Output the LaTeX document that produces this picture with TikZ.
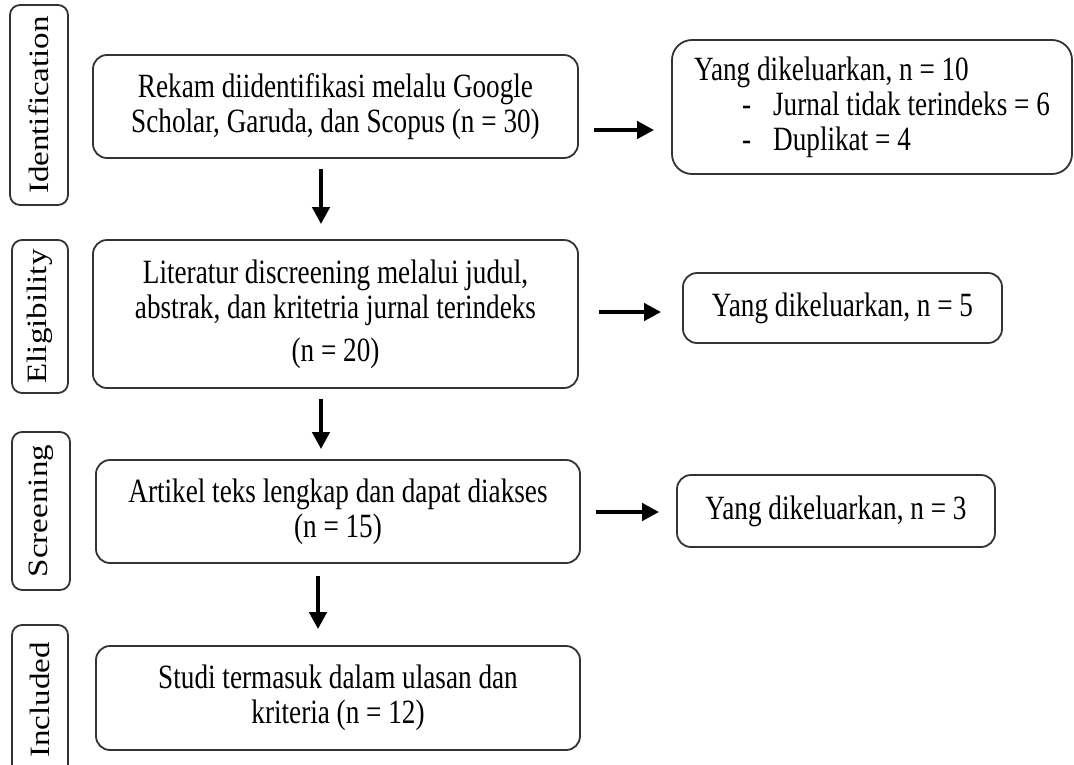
\documentclass[tikz,border=0pt]{standalone}
\usepackage{fontspec}
\setmainfont{Liberation Serif}[FakeStretch=0.8]
\newfontfamily\labfont{Liberation Serif}[FakeStretch=1.18]
\usetikzlibrary{arrows.meta}
\begin{document}
\begin{tikzpicture}[x=1pt,y=-1pt,
  box/.style={draw=black!80, line width=1.8pt, rounded corners=14pt, align=center,
    font=\fontsize{34}{35}\selectfont, inner sep=0pt},
  lab/.style={draw=black!80, line width=1.8pt, rounded corners=10pt, rotate=90,
    font=\labfont\fontsize{28}{30}\selectfont, inner sep=0pt},
  arr/.style={line width=4.6pt, -{Triangle[length=17pt,width=17pt]}}]
\useasboundingbox (0,0) rectangle (1074,764);
\clip (0,0) rectangle (1074,764);
% stage labels
\node[lab, minimum width=200pt, minimum height=58pt] (l1) at (39,105) {Identification};
\node[lab, minimum width=153pt, minimum height=56pt] (l2) at (40,316.5) {Eligibility};
\node[lab, minimum width=158pt, minimum height=58pt] (l3) at (41,511) {Screening};
\node[lab, minimum width=150pt, minimum height=56pt] (l4) at (40,700) {Included};
% main boxes
\node[box, minimum width=485pt, minimum height=103pt] (b1) at (335.5,106.5)
  {Rekam diidentifikasi melalu Google\\Scholar, Garuda, dan Scopus (n = 30)};
\node[box, minimum width=485pt, minimum height=148pt] (b2) at (335.5,314)
  {Literatur discreening melalui judul,\\abstrak, dan kritetria jurnal terindeks\\[8pt](n = 20)};
\node[box, minimum width=484pt, minimum height=103pt] (b3) at (338,511.5)
  {Artikel teks lengkap dan dapat diakses\\(n = 15)};
\node[box, minimum width=484pt, minimum height=104pt] (b4) at (338,698)
  {Studi termasuk dalam ulasan dan\\kriteria (n = 12)};
% excluded boxes
\node[box, minimum width=400pt, minimum height=134pt, rounded corners=20pt,
  align=left] (r1) at (872,107)
  {Yang dikeluarkan, n = 10\\
   \hspace*{48pt}-\hspace*{22pt}Jurnal tidak terindeks = 6\\
   \hspace*{48pt}-\hspace*{22pt}Duplikat = 4};
\node[box, minimum width=319pt, minimum height=70pt] (r2) at (842.5,308)
  {Yang dikeluarkan, n = 5};
\node[box, minimum width=318pt, minimum height=72pt] (r3) at (836,511)
  {Yang dikeluarkan, n = 3};
% arrows
\draw[arr] ([shift={(15,23.5)}]b1.east) -- ([shift={(-17,23)}]r1.west);
\draw[arr] ([shift={(20,-2)}]b2.east) -- ([shift={(-21,4)}]r2.west);
\draw[arr] ([shift={(15,0.5)}]b3.east) -- ([shift={(-17,1)}]r3.west);
\draw[arr] ([shift={(-14.5,10)}]b1.south) -- ([shift={(-14.5,-15)}]b2.north);
\draw[arr] ([shift={(-14.5,10)}]b2.south) -- ([shift={(-17,-10)}]b3.north);
\draw[arr] ([shift={(-20,12)}]b3.south) -- ([shift={(-20,-16)}]b4.north);
\end{tikzpicture}
\end{document}
